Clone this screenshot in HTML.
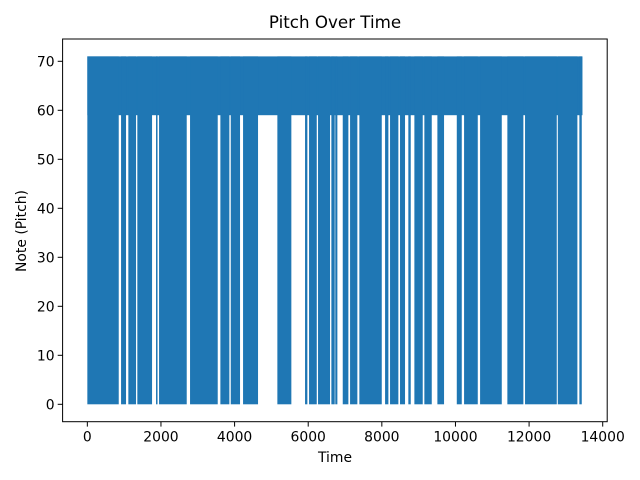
<!DOCTYPE html>
<html><head><meta charset="utf-8"><style>
html,body{margin:0;padding:0;background:#fff;}
svg{display:block;font-family:"DejaVu Sans","Liberation Sans",sans-serif;}
</style></head><body>
<svg id="chart" width="640" height="480" viewBox="0 0 640 480">
<rect width="640" height="480" fill="#fff"/>
<g id="plot"></g>
<g id="axes"></g>
<text x="335" y="28" text-anchor="middle" font-size="16.7" fill="#000">Pitch Over Time</text>
<text x="335" y="462" text-anchor="middle" font-size="13.9" fill="#000">Time</text>
<text x="26" y="231" text-anchor="middle" font-size="13.9" fill="#000" transform="rotate(-90 26 231)">Note (Pitch)</text>
</svg>
<script>
// Segments (time ranges) where the pitch signal repeatedly drops to 0
const dropStarts = [0,916,1114,1358,1866,1948,2790,3614,3896,4230,5162,5914,6023,6267,6629,6735,6938,7137,7389,8088,8223,8494,8720,8884,9155,9509,10036,10234,10669,11410,11890,12780,13366];
const dropEnds   = [853,1051,1323,1758,1902,2700,3542,3858,4148,4637,5542,5977,6232,6593,6720,6792,7091,7335,7998,8178,8449,8630,8785,9111,9356,9690,10171,10606,11258,11845,12752,13312,13431];
// Main oscillation band (time range and pitch range)
const bandTime = [0,13450];
const bandPitch = [59,71];
const xTicks = [0,2000,4000,6000,8000,10000,12000,14000];
const yTicks = [0,10,20,30,40,50,60,70];

const X0=62.6, X1=607.2, Y0=421.7, Y1=39.0;
const xMin=-672, xMax=14122, yMin=-3.55, yMax=74.55;
function xs(v){return X0+(v-xMin)/(xMax-xMin)*(X1-X0);}
function ys(v){return Y0-(v-yMin)/(yMax-yMin)*(Y0-Y1);}
const NS="http://www.w3.org/2000/svg";
const plot=document.getElementById('plot'), axes=document.getElementById('axes');
const C="#1f77b4";

const band=document.createElementNS(NS,'rect');
band.setAttribute('x',xs(bandTime[0]));
band.setAttribute('width',xs(bandTime[1])-xs(bandTime[0]));
band.setAttribute('y',ys(bandPitch[1]));
band.setAttribute('height',ys(bandPitch[0])-ys(bandPitch[1]));
band.setAttribute('fill',C);


plot.appendChild(band);

for(let i=0;i<dropStarts.length;i++){
  const r=document.createElementNS(NS,'rect');
  r.setAttribute('x',xs(dropStarts[i]));
  r.setAttribute('width',Math.max(1.5,xs(dropEnds[i])-xs(dropStarts[i])));
  r.setAttribute('y',ys(bandPitch[1]));
  r.setAttribute('height',ys(0)-ys(bandPitch[1]));
  r.setAttribute('fill',C);
  
  
  plot.appendChild(r);
}

const frame=document.createElementNS(NS,'rect');
frame.setAttribute('x',X0);frame.setAttribute('y',Y1);
frame.setAttribute('width',X1-X0);frame.setAttribute('height',Y0-Y1);
frame.setAttribute('fill','none');frame.setAttribute('stroke','#000');frame.setAttribute('stroke-width','1');


axes.appendChild(frame);

xTicks.forEach(t=>{
  const l=document.createElementNS(NS,'line');
  l.setAttribute('x1',xs(t));l.setAttribute('x2',xs(t));
  l.setAttribute('y1',Y0);l.setAttribute('y2',Y0+4.9);l.setAttribute('stroke','#000');
  
  
  axes.appendChild(l);
  const tx=document.createElementNS(NS,'text');
  tx.setAttribute('x',xs(t));tx.setAttribute('y',Y0+20);
  tx.setAttribute('text-anchor','middle');tx.setAttribute('font-size','13.9');
  tx.textContent=t;
  
  
  axes.appendChild(tx);
});
yTicks.forEach(t=>{
  const l=document.createElementNS(NS,'line');
  l.setAttribute('x1',X0-4.9);l.setAttribute('x2',X0);
  l.setAttribute('y1',ys(t));l.setAttribute('y2',ys(t));l.setAttribute('stroke','#000');
  
  
  axes.appendChild(l);
  const tx=document.createElementNS(NS,'text');
  tx.setAttribute('x',X0-8);tx.setAttribute('y',ys(t)+5);
  tx.setAttribute('text-anchor','end');tx.setAttribute('font-size','13.9');
  tx.textContent=t;
  
  
  axes.appendChild(tx);
});
</script>
</body></html>
